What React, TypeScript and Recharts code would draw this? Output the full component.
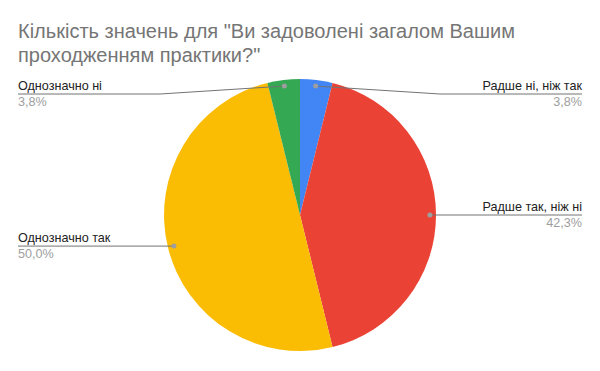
import { PieChart, Pie, Cell } from 'recharts';

const ANSWERS = ['Радше ні, ніж так', 'Радше так, ніж ні', 'Однозначно так', 'Однозначно ні'];
const COUNTS = [1, 11, 13, 1];
const COLORS = ['#4285f4', '#ea4335', '#fbbc04', '#34a853'];
const TITLE = ['Кількість значень для "Ви задоволені загалом Вашим', 'проходженням практики?"'];

const data = ANSWERS.map((name, i) => ({ name, value: COUNTS[i] }));

const RADIAN = Math.PI / 180;
const FONT = 'Arial, "Liberation Sans", sans-serif';

function renderLabel(props: any) {
  const { cx, cy, midAngle, outerRadius, percent, name } = props;
  const r = outerRadius * 0.955;
  const dx = cx + r * Math.cos(-midAngle * RADIAN);
  const dy = cy + r * Math.sin(-midAngle * RADIAN);
  const right = dx >= cx;
  const ly = Math.max(dy, 94);
  const bendX = right ? 440 : 160;
  const endX = right ? 582 : 18;
  const pct = ((percent || 0) * 100).toFixed(1).replace('.', ',') + '%';
  const anchor = right ? 'end' : 'start';
  return (
    <g>
      <polyline points={`${dx},${dy} ${bendX},${ly} ${endX},${ly}`} fill="none" stroke="#737373" strokeWidth={1} />
      <circle cx={dx} cy={dy} r={2.5} fill="#9e9e9e" />
      <text x={endX} y={ly - 4.5} textAnchor={anchor} fontSize={12.6} fontFamily={FONT} fill="#222222">{name}</text>
      <text x={endX} y={ly + 12} textAnchor={anchor} fontSize={12.6} fontFamily={FONT} fill="#9e9e9e">{pct}</text>
    </g>
  );
}

export default function App() {
  return (
    <div style={{ position: 'absolute', left: 0, top: 0, width: 600, height: 371, background: '#fff' }}>
      <div style={{ position: 'absolute', left: 18, top: 19, fontFamily: FONT, fontSize: 20, lineHeight: '24px', color: '#757575', whiteSpace: 'nowrap' }}>
        {TITLE[0]}<br />{TITLE[1]}
      </div>
      <PieChart width={600} height={371} margin={{ top: 0, right: 0, bottom: 0, left: 0 }}>
        <Pie
          data={data}
          dataKey="value"
          nameKey="name"
          cx={300}
          cy={215}
          outerRadius={136}
          startAngle={90}
          endAngle={-270}
          stroke="none"
          label={renderLabel}
          labelLine={false}
          isAnimationActive={false}
        >
          {data.map((_, i) => (
            <Cell key={i} fill={COLORS[i]} />
          ))}
        </Pie>
      </PieChart>
    </div>
  );
}
